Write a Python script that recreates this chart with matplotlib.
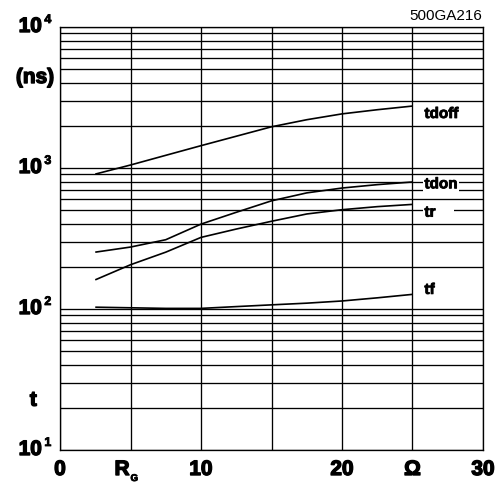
import matplotlib
matplotlib.use('Agg')
import matplotlib.pyplot as plt
import matplotlib.transforms as mtransforms
import matplotlib.patheffects as pe
from matplotlib.ticker import LogLocator, FixedLocator, NullFormatter

plt.rcParams['font.family'] = ['Liberation Sans', 'DejaVu Sans']

# ---- data ----
rg = [2.5, 5, 7.5, 10, 12.5, 15, 17.5, 20, 22.5, 25]
tdoff = [905, 1050, 1230, 1440, 1680, 1960, 2200, 2420, 2590, 2750]
tdon = [253, 275, 310, 400, 485, 585, 666, 721, 762, 796]
tr = [161, 206, 253, 322, 369, 419, 472, 506, 532, 552]
tf = [103, 102, 101, 101, 104, 107, 110, 114, 120, 127]

x_ticks = [0, 5, 10, 15, 20, 25, 30]
x_labels = {0: '0', 10: '10', 20: '20', 25: '\u03a9', 30: '30'}
y_decades = [10, 100, 1000, 10000]
y_exps = ['1', '2', '3', '4']
curve_labels = ['tdoff', 'tdon', 'tr', 'tf']
curve_label_y = [2263, 718, 452, 128]

heavy = [pe.withStroke(linewidth=1.0, foreground='black')]
heavy_s = [pe.withStroke(linewidth=0.6, foreground='black')]

fig = plt.figure(figsize=(5.01, 4.85), dpi=100)
ax = fig.add_axes([60 / 501, 34 / 485, 423 / 501, 423 / 485])
ax.set_yscale('log')
ax.set_xlim(0, 30)
ax.set_ylim(10, 10000)
ax.xaxis.set_major_locator(FixedLocator(x_ticks))
ax.yaxis.set_major_locator(LogLocator(base=10))
ax.yaxis.set_minor_locator(LogLocator(base=10, subs=range(2, 10)))
ax.xaxis.set_major_formatter(NullFormatter())
ax.yaxis.set_major_formatter(NullFormatter())
ax.yaxis.set_minor_formatter(NullFormatter())
ax.tick_params(which='both', length=0)
ax.set_axisbelow(True)
ax.grid(True, which='both', axis='y', color='black', lw=0.95)
ax.grid(True, which='major', axis='x', color='black', lw=0.95)
for s in ax.spines.values():
    s.set_linewidth(0.95)

for series in (tdoff, tdon, tr, tf):
    ax.plot(rg, series, color='black', lw=1.2, solid_capstyle='butt')

# curve labels
for lab, yv in zip(curve_labels, curve_label_y):
    txt = lab + ('    ' if lab == 'tr' else '')
    ax.text(25.85, yv, txt, fontsize=11, fontweight='bold', ha='left', va='baseline',
            bbox=dict(facecolor='white', edgecolor='none', pad=1.0), zorder=4,
            path_effects=heavy_s)

# y decade labels
ytr = ax.get_yaxis_transform()
for yv, e in zip(y_decades, y_exps):
    t1 = mtransforms.offset_copy(ytr, fig=fig, x=0, y=-5, units='dots')
    ax.text(-0.0425, yv, '10', transform=t1, fontsize=15, fontweight='bold',
            ha='right', va='baseline', clip_on=False, path_effects=heavy)
    t2 = mtransforms.offset_copy(ytr, fig=fig, x=0, y=4, units='dots')
    ax.text(-0.037, yv, e, transform=t2, fontsize=9, fontweight='bold',
            ha='left', va='baseline', clip_on=False, path_effects=heavy_s)

# x labels
xtr = ax.get_xaxis_transform()
tx = mtransforms.offset_copy(xtr, fig=fig, x=0, y=-25, units='dots')
for xv, lab in x_labels.items():
    ax.text(xv, 0, lab, transform=tx, fontsize=15, fontweight='bold',
            ha='center', va='baseline', clip_on=False, path_effects=heavy)
ax.text(4.4, 0, 'R', transform=tx, fontsize=15, fontweight='bold',
        ha='center', va='baseline', clip_on=False, path_effects=heavy)
tg = mtransforms.offset_copy(xtr, fig=fig, x=0, y=-31, units='dots')
ax.text(5.0, 0, 'G', transform=tg, fontsize=7, fontweight='bold',
        ha='left', va='baseline', clip_on=False, path_effects=heavy_s)

# axis titles
ax.text(-0.059, 0.8676, '(ns)', transform=ax.transAxes, fontsize=15, fontweight='bold',
        ha='center', va='baseline', clip_on=False, path_effects=heavy)
ax.text(-0.063, 0.1047, 't', transform=ax.transAxes, fontsize=15, fontweight='bold',
        ha='center', va='baseline', clip_on=False, path_effects=heavy)

fig.text(482 / 501, (485 - 20) / 485, '500GA216', fontsize=11, ha='right', va='baseline')

fig.savefig('out.png', dpi=100, facecolor='white')
